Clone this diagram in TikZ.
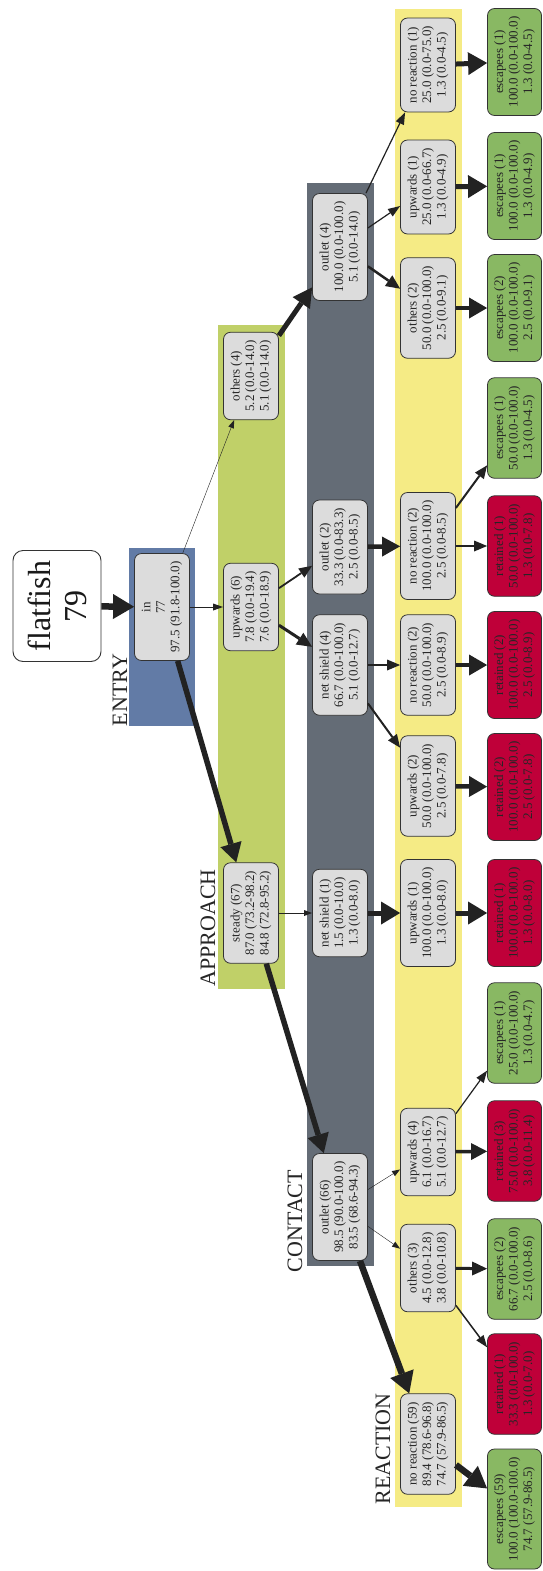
\documentclass[tikz,border=0pt]{standalone}
\usepackage{fontspec}
\setmainfont{Liberation Serif}
\usetikzlibrary{arrows.meta}
\definecolor{ngray}{HTML}{DCDCDC}
\definecolor{nborder}{HTML}{333333}
\definecolor{escgreen}{HTML}{89B863}
\definecolor{retred}{HTML}{BF0039}
\definecolor{entryc}{HTML}{627BA6}
\definecolor{approachc}{HTML}{C0D068}
\definecolor{contactc}{HTML}{646C76}
\definecolor{reactionc}{HTML}{F5EB85}
\definecolor{edgec}{HTML}{222222}
\begin{document}
\begin{tikzpicture}[x=1pt,y=-1pt,
  box/.style={draw=nborder, line width=0.8pt, rounded corners=7pt, rotate=90, align=center,
    font=\fontsize{13}{14.5}\selectfont, inner xsep=8pt, inner ysep=2pt, minimum height=55pt, text=black!85},
  gbox/.style={box, fill=ngray},
  esc/.style={box, fill=escgreen, minimum height=54pt},
  ret/.style={box, fill=retred, minimum height=54pt},
  clab/.style={rotate=90, anchor=base, inner sep=0pt, font=\fontsize{22}{24}\selectfont, text=black!85},
  ed/.style n args={3}{draw=edgec, line width=#1pt, -{Triangle[length=#2pt, width=#3pt, line width=0pt]}}
]
\useasboundingbox (0,0) rectangle (543,1571);
\fill[white] (0,0) rectangle (543,1571);

% clusters
\fill[entryc] (129,548) rectangle (195,726);
\fill[approachc] (218,325) rectangle (285,989);
\fill[contactc] (307,183) rectangle (374,1266);
\fill[reactionc] (395,9) rectangle (462,1507);

\node[clab] (lentry) at (127,690) {ENTRY};
\node[clab] (lapproach) at (215,928) {APPROACH};
\node[clab] (lcontact) at (302,1221) {CONTACT};
\node[clab] (lreaction) at (390,1449) {REACTION};

% start
\node[draw=nborder, line width=0.9pt, fill=white, rounded corners=10pt, rotate=90, align=center,
  minimum width=111pt, minimum height=88pt, inner sep=0pt,
  font=\fontsize{32}{36}\selectfont, text=black!90] (ff) at (57,606) {flatfish\\79};

% ENTRY
\node[gbox] (in) at (162,607) {in\\77\\97.5 (91.8-100.0)};

% APPROACH
\node[gbox] (oth4) at (251,376) {others (4)\\5.2 (0.0-14.0)\\5.1 (0.0-14.0)};
\node[gbox] (upw6) at (251,607) {upwards (6)\\7.8 (0.0-19.4)\\7.6 (0.0-18.9)};
\node[gbox] (steady) at (251,913) {steady (67)\\87.0 (73.2-98.2)\\84.8 (72.8-95.2)};

% CONTACT
\node[gbox] (out4) at (340,247) {outlet (4)\\100.0 (0.0-100.0)\\5.1 (0.0-14.0)};
\node[gbox] (out2) at (340,547) {outlet (2)\\33.3 (0.0-83.3)\\2.5 (0.0-8.5)};
\node[gbox] (ns4) at (340,665) {net shield (4)\\66.7 (0.0-100.0)\\5.1 (0.0-12.7)};
\node[gbox] (ns1) at (340,913) {net shield (1)\\1.5 (0.0-10.0)\\1.3 (0.0-8.0)};
\node[gbox] (out66) at (340,1207) {outlet (66)\\98.5 (90.0-100.0)\\83.5 (68.6-94.3)};

% REACTION
\node[gbox] (nr1) at (428,65) {no reaction (1)\\25.0 (0.0-75.0)\\1.3 (0.0-4.5)};
\node[gbox] (up1a) at (428,187) {upwards (1)\\25.0 (0.0-66.7)\\1.3 (0.0-4.9)};
\node[gbox] (oth2) at (428,308) {others (2)\\50.0 (0.0-100.0)\\2.5 (0.0-9.1)};
\node[gbox] (nr2a) at (428,546) {no reaction (2)\\100.0 (0.0-100.0)\\2.5 (0.0-8.5)};
\node[gbox] (nr2b) at (428,665) {no reaction (2)\\50.0 (0.0-100.0)\\2.5 (0.0-8.9)};
\node[gbox] (up2) at (428,786) {upwards (2)\\50.0 (0.0-100.0)\\2.5 (0.0-7.8)};
\node[gbox] (up1b) at (428,913) {upwards (1)\\100.0 (0.0-100.0)\\1.3 (0.0-8.0)};
\node[gbox] (up4) at (428,1152) {upwards (4)\\6.1 (0.0-16.7)\\5.1 (0.0-12.7)};
\node[gbox] (oth3) at (428,1268) {others (3)\\4.5 (0.0-12.8)\\3.8 (0.0-10.8)};
\node[gbox] (nr59) at (428,1444) {no reaction (59)\\89.4 (78.6-96.8)\\74.7 (57.9-86.5)};

% outcomes
\node[esc] (esc1a) at (514.5,62) {escapees (1)\\100.0 (0.0-100.0)\\1.3 (0.0-4.5)};
\node[esc] (esc1b) at (514.5,186) {escapees (1)\\100.0 (0.0-100.0)\\1.3 (0.0-4.9)};
\node[esc] (esc2a) at (514.5,308) {escapees (2)\\100.0 (0.0-100.0)\\2.5 (0.0-9.1)};
\node[esc] (esc1c) at (514.5,428) {escapees (1)\\50.0 (0.0-100.0)\\1.3 (0.0-4.5)};
\node[ret] (ret1a) at (514.5,546) {retained (1)\\50.0 (0.0-100.0)\\1.3 (0.0-7.8)};
\node[ret] (ret2a) at (514.5,665) {retained (2)\\100.0 (0.0-100.0)\\2.5 (0.0-8.9)};
\node[ret] (ret2b) at (514.5,787) {retained (2)\\100.0 (0.0-100.0)\\2.5 (0.0-7.8)};
\node[ret] (ret1b) at (514.5,913) {retained (1)\\100.0 (0.0-100.0)\\1.3 (0.0-8.0)};
\node[esc] (esc1d) at (514.5,1033) {escapees (1)\\25.0 (0.0-100.0)\\1.3 (0.0-4.7)};
\node[ret] (ret3) at (514.5,1151) {retained (3)\\75.0 (0.0-100.0)\\3.8 (0.0-11.4)};
\node[esc] (esc2b) at (514.5,1269) {escapees (2)\\66.7 (0.0-100.0)\\2.5 (0.0-8.6)};
\node[ret] (ret1c) at (514.5,1384) {retained (1)\\33.3 (0.0-100.0)\\1.3 (0.0-7.0)};
\node[esc] (esc59) at (514.5,1509) {escapees (59)\\100.0 (100.0-100.0)\\74.7 (57.9-86.5)};

% edges
\draw[ed={6.5}{21}{25}] (ff) -- (in);
\draw[ed={0.6}{10}{7}] (in) -- (upw6);
\draw[ed={0.4}{8}{6}] (in) -- (oth4);
\draw[ed={5.5}{19}{22}] (in) -- (steady);
\draw[ed={1.8}{13}{11}] (upw6) -- (out2);
\draw[ed={3}{15}{14}] (upw6) -- (ns4);
\draw[ed={5}{19}{21}] (oth4) -- (out4);
\draw[ed={0.4}{8}{6}] (steady) -- (ns1);
\draw[ed={5.5}{19}{22}] (steady) -- (out66);
\draw[ed={1.2}{12}{9}] (out4) -- (nr1);
\draw[ed={1.2}{12}{9}] (out4) -- (up1a);
\draw[ed={2.5}{14}{13}] (out4) -- (oth2);
\draw[ed={4.5}{18}{20}] (out2) -- (nr2a);
\draw[ed={2}{13}{11}] (ns4) -- (nr2b);
\draw[ed={2}{13}{11}] (ns4) -- (up2);
\draw[ed={5}{19}{23}] (ns1) -- (up1b);
\draw[ed={0.4}{8}{6}] (out66) -- (up4);
\draw[ed={0.4}{8}{6}] (out66) -- (oth3);
\draw[ed={6.5}{21}{25}] (out66) -- (nr59);
\draw[ed={5}{19}{23}] (nr1) -- (esc1a);
\draw[ed={5}{19}{23}] (up1a) -- (esc1b);
\draw[ed={4.5}{18}{21}] (oth2) -- (esc2a);
\draw[ed={2}{13}{11}] (nr2a) -- (ret1a);
\draw[ed={2}{13}{11}] (nr2a) -- (esc1c);
\draw[ed={4.5}{18}{21}] (nr2b) -- (ret2a);
\draw[ed={4.5}{18}{21}] (up2) -- (ret2b);
\draw[ed={5}{19}{23}] (up1b) -- (ret1b);
\draw[ed={3.5}{16}{17}] (up4) -- (ret3);
\draw[ed={1.2}{12}{9}] (up4) -- (esc1d);
\draw[ed={3}{15}{14}] (oth3) -- (esc2b);
\draw[ed={1.5}{12}{9}] (oth3) -- (ret1c);
\draw[ed={6.5}{21}{25}] (nr59) -- (esc59);
\end{tikzpicture}
\end{document}
